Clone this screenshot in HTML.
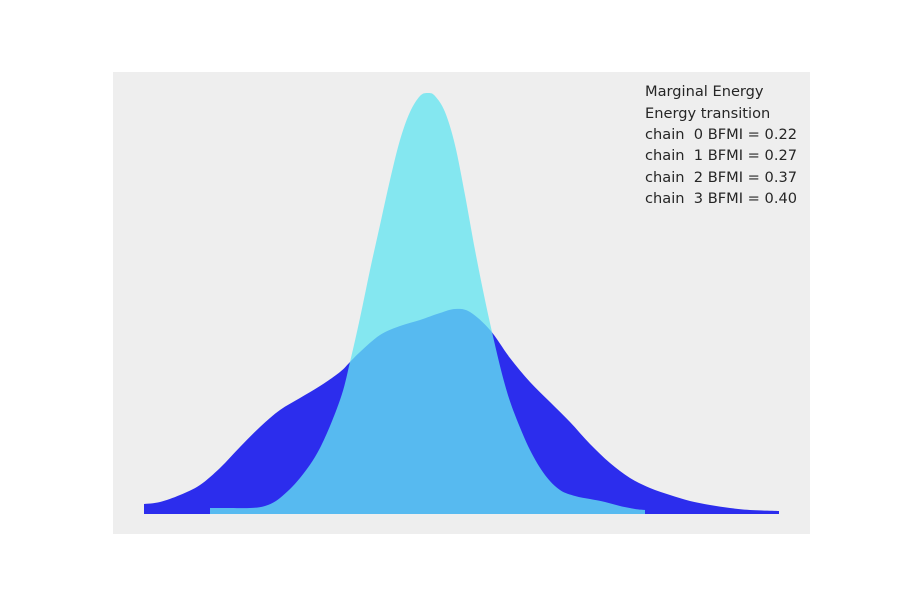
<!DOCTYPE html>
<html><head><meta charset="utf-8"><style>
body{margin:0;background:#fff;}
svg{display:block;}
text{font-family:"DejaVu Sans","Liberation Sans",sans-serif;font-size:14.6px;fill:#262626;}
</style></head><body>
<svg id="chart" width="900" height="600">
<rect x="113" y="72" width="697" height="462" fill="#eeeeee"/>
<g id="marks"></g>
<g>
<text x="645" y="96">Marginal Energy</text>
<text x="645" y="118">Energy transition</text>
<text x="645" y="139" xml:space="preserve">chain  0 BFMI = 0.22</text>
<text x="645" y="160" xml:space="preserve">chain  1 BFMI = 0.27</text>
<text x="645" y="182" xml:space="preserve">chain  2 BFMI = 0.37</text>
<text x="645" y="203" xml:space="preserve">chain  3 BFMI = 0.40</text>
</g>
</svg>
<script>
const marginalX=[-31.6,-30,-28,-26,-24,-22,-20,-18,-16,-14,-12,-11,-10,-8,-6,-4,-2,-0.5,1,3,5,7,9,11,13,15,17,19,21,23,25,27,29,31.9];
const marginalY=[0.010,0.012,0.019,0.029,0.046,0.067,0.087,0.104,0.116,0.128,0.142,0.152,0.162,0.179,0.188,0.194,0.201,0.205,0.202,0.184,0.156,0.132,0.112,0.092,0.070,0.051,0.036,0.026,0.019,0.013,0.009,0.006,0.004,0.003];
const transX=[-25,-23,-21,-19.5,-18,-16,-14,-12,-11,-10,-9,-8,-7,-6,-5,-4,-3.2,-2.5,-1.5,-0.5,0.5,1.5,2.5,3.5,4.5,5.5,7,8.5,10,11.5,13,14.5,16,17.5,18.5];
const transY=[0.006,0.006,0.006,0.008,0.016,0.036,0.066,0.114,0.152,0.196,0.244,0.289,0.334,0.374,0.402,0.418,0.421,0.418,0.402,0.369,0.319,0.264,0.214,0.169,0.129,0.099,0.064,0.039,0.024,0.018,0.015,0.012,0.008,0.005,0.004];
const xS=v=>460+v*10;
const yS=v=>514-v*1000;
function area(xs,ys){
  const P=xs.map((x,i)=>[xS(x),yS(ys[i])]);
  let d='M'+P[0][0]+','+yS(0)+'L'+P[0][0].toFixed(1)+','+P[0][1].toFixed(1);
  for(let i=0;i<P.length-1;i++){
    const p0=P[Math.max(0,i-1)],p1=P[i],p2=P[i+1],p3=P[Math.min(P.length-1,i+2)];
    const c1=[p1[0]+(p2[0]-p0[0])/6,p1[1]+(p2[1]-p0[1])/6];
    const c2=[p2[0]-(p3[0]-p1[0])/6,p2[1]-(p3[1]-p1[1])/6];
    d+='C'+c1[0].toFixed(1)+','+c1[1].toFixed(1)+' '+c2[0].toFixed(1)+','+c2[1].toFixed(1)+' '+p2[0].toFixed(1)+','+p2[1].toFixed(1);
  }
  d+='L'+P[P.length-1][0]+','+yS(0)+'Z';
  return d;
}
const g=document.getElementById('marks');
const ns='http://www.w3.org/2000/svg';
const p1=document.createElementNS(ns,'path');
p1.setAttribute('d',area(marginalX,marginalY));
p1.setAttribute('fill','#2c2ded');


g.appendChild(p1);
const p2=document.createElementNS(ns,'path');
p2.setAttribute('d',area(transX,transY));
p2.setAttribute('fill','rgb(100,229,241)');
p2.setAttribute('fill-opacity','0.77');


g.appendChild(p2);
</script>
</body></html>
